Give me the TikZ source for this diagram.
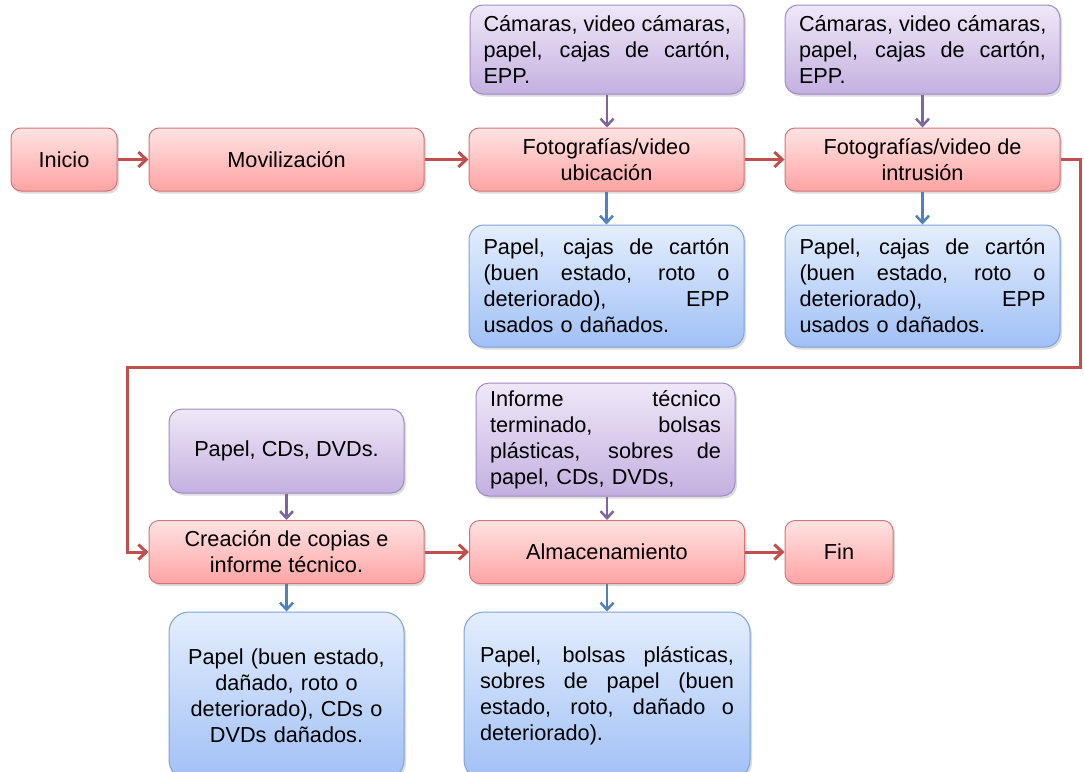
\documentclass[tikz,border=0pt]{standalone}
\usepackage{fontspec}
\setmainfont{Liberation Sans}
\usetikzlibrary{arrows.meta,shadows}

\definecolor{redline}{HTML}{D47474}
\definecolor{redtop}{HTML}{FFE3E3}
\definecolor{redbot}{HTML}{FFA3A3}
\definecolor{redarrow}{HTML}{C0504D}
\definecolor{purline}{HTML}{A08BC6}
\definecolor{purtop}{HTML}{EFE8F8}
\definecolor{purbot}{HTML}{C4B0E0}
\definecolor{purarrow}{HTML}{8064A2}
\definecolor{bluline}{HTML}{7EA2DA}
\definecolor{blutop}{HTML}{E4EEFD}
\definecolor{blubot}{HTML}{A0C0F6}
\definecolor{bluarrow}{HTML}{4F81BD}

\newcommand\boxfont{\fontsize{21.7}{26}\selectfont}
% a justified line: words spread over the given width
\newcommand\jline[2]{\leavevmode\hbox to #1{\spaceskip=0.28em plus 1fil\relax #2}}

\tikzset{
  boxbase/.style={draw, line width=1pt, inner sep=0pt, font=\boxfont,
    drop shadow={opacity=0.28, shadow xshift=2pt, shadow yshift=-2.5pt}},
  redbox/.style={boxbase, rounded corners=10pt, draw=redline,
    top color=redtop, bottom color=redbot,
    minimum width=275pt, minimum height=63pt, align=center},
  purbox/.style={boxbase, rounded corners=13pt, draw=purline,
    top color=purtop, bottom color=purbot, align=left},
  blubox/.style={boxbase, rounded corners=15pt, draw=bluline,
    top color=blutop, bottom color=blubot, align=left},
  redarr/.style={draw=redarrow, line width=3pt,
    -{Straight Barb[length=8pt,width=15pt]}},
  purarr/.style={draw=purarrow, line width=2.5pt,
    -{Straight Barb[length=7pt,width=13pt]}},
  bluarr/.style={draw=bluarrow, line width=2.5pt,
    -{Straight Barb[length=7pt,width=13pt]}},
}

\begin{document}
\begin{tikzpicture}[x=1pt,y=-1pt]
\useasboundingbox (0,0) rectangle (1084,771);
\clip (0,0) rectangle (1084,771);

% upper row: process steps
\node[redbox, minimum width=106pt] (ini) at (64,159.5) {Inicio};
\node[redbox] (mov) at (286.5,159.5) {Movilización};
\node[redbox] (fub) at (606.5,159.5) {Fotografías/video\\ubicación};
\node[redbox] (fint) at (922.5,159.5) {Fotografías/video de\\intrusión};

% inputs of the upper row
\node[purbox, minimum width=274pt, minimum height=89pt, text width=247pt] (in1) at (607,49.5)
  {\jline{247pt}{Cámaras, video cámaras,}\\\jline{247pt}{papel, cajas de cartón,}\\EPP.};
\node[purbox, minimum width=275pt, minimum height=89pt, text width=247pt] (in2) at (922.5,49.5)
  {\jline{247pt}{Cámaras, video cámaras,}\\\jline{247pt}{papel, cajas de cartón,}\\EPP.};

% outputs of the upper row
\node[blubox, minimum width=275pt, minimum height=122pt, text width=246pt] (out1) at (606.5,286)
  {\jline{246pt}{Papel, cajas de cartón}\\\jline{246pt}{(buen estado, roto o}\\\jline{246pt}{deteriorado), EPP}\\usados o dañados.};
\node[blubox, minimum width=275pt, minimum height=122pt, text width=246pt] (out2) at (922.5,286)
  {\jline{246pt}{Papel, cajas de cartón}\\\jline{246pt}{(buen estado, roto o}\\\jline{246pt}{deteriorado), EPP}\\usados o dañados.};

% lower row: process steps
\node[redbox] (cre) at (286.5,552) {Creación de copias e\\informe técnico.};
\node[redbox] (alm) at (607,552) {Almacenamiento};
\node[redbox, minimum width=108pt] (fin) at (839,552) {Fin};

% inputs of the lower row
\node[purbox, minimum width=235pt, minimum height=84pt, align=center] (in3) at (286.5,451)
  {Papel, CDs, DVDs.};
\node[purbox, minimum width=259pt, minimum height=113pt, text width=231pt] (in4) at (605.5,439.5)
  {\jline{231pt}{Informe técnico}\\\jline{231pt}{terminado, bolsas}\\\jline{231pt}{plásticas, sobres de}\\papel, CDs, DVDs,};

% outputs of the lower row
\node[blubox, rounded corners=20pt, minimum width=235pt, minimum height=168pt,
      text width=215pt, align=center] (out3) at (286.5,696)
  {Papel (buen estado,\\dañado, roto o\\deteriorado), CDs o\\DVDs dañados.};
\node[blubox, rounded corners=20pt, minimum width=286pt, minimum height=168pt,
      text width=254pt] (out4) at (607,696)
  {\jline{254pt}{Papel, bolsas plásticas,}\\\jline{254pt}{sobres de papel (buen}\\\jline{254pt}{estado, roto, dañado o}\\deteriorado).};

% main flow
\coordinate (r1) at (1080,367);
\coordinate (r2) at (127,367);
\draw[redarr] (ini.east) -- (mov.west);
\draw[redarr] (mov.east) -- (fub.west);
\draw[redarr] (fub.east) -- (fint.west);
\draw[redarr] (fint.east) -| (r1) -- (r2) |- (cre.west);
\draw[redarr] (cre.east) -- (alm.west);
\draw[redarr] (alm.east) -- (fin.west);

% inputs
\draw[purarr] (in1.south) -- (in1.south |- fub.north);
\draw[purarr] (in2.south) -- (in2.south |- fint.north);
\draw[purarr] (in3.south) -- (in3.south |- cre.north);
\draw[purarr] (in4.south -| alm.north) -- (alm.north);

% outputs
\draw[bluarr] (fub.south) -- (fub.south |- out1.north);
\draw[bluarr] (fint.south) -- (fint.south |- out2.north);
\draw[bluarr] (cre.south) -- (cre.south |- out3.north);
\draw[bluarr] (alm.south) -- (alm.south |- out4.north);
\end{tikzpicture}
\end{document}
